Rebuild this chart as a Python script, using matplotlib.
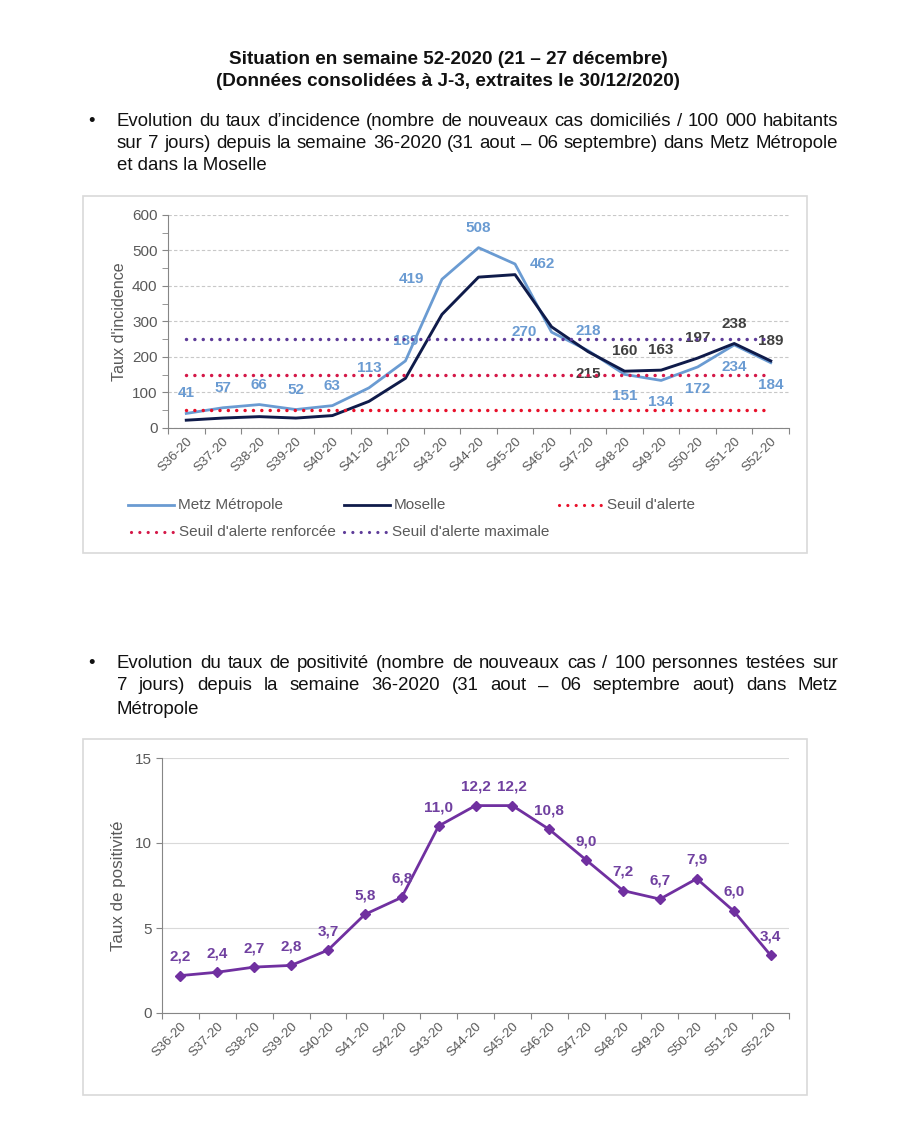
import matplotlib.pyplot as plt
from matplotlib.lines import Line2D
from matplotlib.patches import Rectangle

plt.rcParams['font.family'] = ['Liberation Sans', 'DejaVu Sans']

# weeks
semaines = ['S36-20', 'S37-20', 'S38-20', 'S39-20', 'S40-20', 'S41-20', 'S42-20', 'S43-20', 'S44-20',
            'S45-20', 'S46-20', 'S47-20', 'S48-20', 'S49-20', 'S50-20', 'S51-20', 'S52-20']

# incidence rates (per 100 000, 7 days)
metz = [41, 57, 66, 52, 63, 113, 189, 419, 508, 462, 270, 218, 151, 134, 172, 234, 184]
moselle = [22, 28, 32, 28, 35, 75, 140, 320, 425, 432, 285, 215, 160, 163, 197, 238, 189]
seuil_alerte = 50
seuil_renforcee = 150
seuil_maximale = 250

# positivity rate, Metz Metropole
positivite = [2.2, 2.4, 2.7, 2.8, 3.7, 5.8, 6.8, 11.0, 12.2, 12.2, 10.8, 9.0, 7.2, 6.7, 7.9, 6.0, 3.4]

# label offsets in pixels (dx, dy)
metz_off = [(0, 20), (0, 20), (0, 20), (0, 20), (0, 20), (0, 20), (0, 20), (-30, 0), (0, 20),
            (27, 0), (-27, 0), (0, 20), (0, -22), (0, -22), (0, -22), (0, -22), (0, -22)]
moselle_off = [None] * 11 + [(0, -22), (0, 20), (0, 20), (0, 20), (0, 20), (0, 20)]

W, H = 903, 1125
fig = plt.figure(figsize=(W / 100, H / 100), dpi=100)
fig.patch.set_facecolor('white')

GRAY = '#595959'
C_METZ = '#6A9BD2'
C_MOS = '#0F1B4A'
C_RED = '#E8102A'
C_CRIMSON = '#D41848'
C_PURPLE = '#5E3C99'
C_POS = '#7030A0'


def fx(px):
    return px / W


def fy(py):
    return 1 - py / H


renderer = fig.canvas.get_renderer()


def justify(text, x0, x1, y, **kw):
    words = text.split(' ')
    ts = [fig.text(0, fy(y), w, va='center', ha='left', **kw) for w in words]
    widths = [t.get_window_extent(renderer).width for t in ts]
    gap = (x1 - x0 - sum(widths)) / (len(words) - 1)
    x = x0
    for t, w in zip(ts, widths):
        t.set_x(fx(x))
        x += w + gap


txt = dict(fontsize=13.4, color='#111111')

# header
fig.text(fx(448), fy(60), 'Situation en semaine 52-2020 (21 – 27 décembre)', ha='center', va='center',
         fontsize=13.6, fontweight='bold', color='#111111')
fig.text(fx(448), fy(81), '(Données consolidées à J-3, extraites le 30/12/2020)', ha='center', va='center',
         fontsize=13.6, fontweight='bold', color='#111111')

# bullet 1
fig.text(fx(92), fy(122), '•', ha='center', va='center', **txt)
justify('Evolution du taux d’incidence (nombre de nouveaux cas domiciliés / 100 000 habitants', 117, 838, 122, **txt)
justify('sur 7 jours) depuis la semaine 36-2020 (31 aout – 06 septembre) dans Metz Métropole', 117, 838, 144, **txt)
fig.text(fx(117), fy(166), 'et dans la Moselle', ha='left', va='center', **txt)

# bullet 2
fig.text(fx(92), fy(663), '•', ha='center', va='center', **txt)
justify('Evolution du taux de positivité (nombre de nouveaux cas / 100 personnes testées sur', 117, 838, 663, **txt)
justify('7 jours) depuis la semaine 36-2020 (31 aout – 06 septembre aout) dans Metz', 117, 838, 686, **txt)
fig.text(fx(117), fy(709), 'Métropole', ha='left', va='center', **txt)

# chart frames
for (x0, y0, x1, y1) in [(83, 196, 807, 553), (83, 739, 807, 1095)]:
    fig.patches.append(Rectangle((fx(x0), fy(y1)), fx(x1 - x0), (y1 - y0) / H, transform=fig.transFigure,
                                 fill=False, edgecolor='#D9D9D9', linewidth=1.2))

x = list(range(len(semaines)))

# ---------- incidence chart ----------
ax1 = fig.add_axes([fx(168), fy(428), fx(789 - 168), 213 / H])
ax1.plot(x, metz, color=C_METZ, lw=2.0, zorder=3, solid_joinstyle='round')
ax1.plot(x, moselle, color=C_MOS, lw=2.1, zorder=3, solid_joinstyle='round')
dots = dict(lw=2.5, linestyle=(0, (0.01, 2.4)), dash_capstyle='round', zorder=5)
ax1.plot(x, [seuil_alerte] * len(x), color=C_RED, **dots)
ax1.plot(x, [seuil_renforcee] * len(x), color=C_CRIMSON, **dots)
ax1.plot(x, [seuil_maximale] * len(x), color=C_PURPLE, **dots)

for i, v in enumerate(metz):
    ax1.annotate(str(v), (i, v), xytext=metz_off[i], textcoords='offset pixels', ha='center', va='center',
                 fontsize=11, fontweight='bold', color=C_METZ, zorder=4)
for i, v in enumerate(moselle):
    if moselle_off[i] is None:
        continue
    ax1.annotate(str(v), (i, v), xytext=moselle_off[i], textcoords='offset pixels', ha='center', va='center',
                 fontsize=11, fontweight='bold', color='#404040', zorder=4)

ax1.set_xlim(-0.5, len(x) - 0.5)
ax1.set_ylim(0, 600)
ax1.set_yticks(range(0, 601, 100))
ax1.set_yticks(range(50, 600, 100), minor=True)
ax1.grid(axis='y', color='#C8C8C8', linestyle=(0, (3, 2)), lw=0.8)
ax1.set_ylabel("Taux d'incidence", fontsize=11.6, color=GRAY, labelpad=3.5)

# ---------- positivity chart ----------
ax2 = fig.add_axes([fx(162), fy(1013), fx(789 - 162), 255 / H])
ax2.plot(x, positivite, color=C_POS, lw=2.0, marker='D', markersize=5, zorder=3)
for i, v in enumerate(positivite):
    ax2.annotate(f'{v:.1f}'.replace('.', ','), (i, v), xytext=(0, 19), textcoords='offset pixels',
                 ha='center', va='center', fontsize=11, fontweight='bold', color='#7040A0', zorder=4)
ax2.set_xlim(-0.5, len(x) - 0.5)
ax2.set_ylim(0, 15)
ax2.set_yticks([0, 5, 10, 15])
ax2.grid(axis='y', color='#D9D9D9', lw=0.8)
ax2.set_ylabel('Taux de positivité', fontsize=12.2, color=GRAY, labelpad=6)

for ax in (ax1, ax2):
    ax.set_axisbelow(True)
    for s in ('top', 'right'):
        ax.spines[s].set_visible(False)
    ax.spines['left'].set_color('#868686')
    ax.spines['bottom'].set_color('#868686')
    ax.set_xticks([i - 0.5 for i in range(len(x) + 1)])
    ax.set_xticklabels([])
    ax.set_xticks(x, minor=True)
    ax.set_xticklabels(semaines, minor=True, rotation=45, ha='right', va='top', rotation_mode='anchor',
                       fontsize=9.5, color=GRAY)
    ax.tick_params(axis='x', which='major', length=4, color='#868686')
    ax.tick_params(axis='x', which='minor', length=0, pad=5)
    ax.tick_params(axis='y', which='both', length=4, color='#868686', labelsize=11, labelcolor=GRAY)

# legend of incidence chart (manual layout)
leg_items = [
    (128, 505, C_METZ, '-', 'Metz Métropole'),
    (344, 505, C_MOS, '-', 'Moselle'),
    (557, 505, C_RED, ':', "Seuil d'alerte"),
    (129, 532, C_CRIMSON, ':', "Seuil d'alerte renforcée"),
    (342, 532, C_PURPLE, ':', "Seuil d'alerte maximale"),
]
for lx, ly, col, ls, lab in leg_items:
    if ls == '-':
        fig.add_artist(Line2D([fx(lx), fx(lx + 46)], [fy(ly), fy(ly)], color=col, lw=2.0))
    else:
        fig.add_artist(Line2D([fx(lx + 2), fx(lx + 46)], [fy(ly), fy(ly)], color=col, lw=2.3,
                              linestyle=(0, (0.01, 2.6)), dash_capstyle='round'))
    fig.text(fx(lx + 50), fy(ly), lab, ha='left', va='center', fontsize=11, color=GRAY)

fig.savefig('out.png', dpi=100, facecolor='white')
